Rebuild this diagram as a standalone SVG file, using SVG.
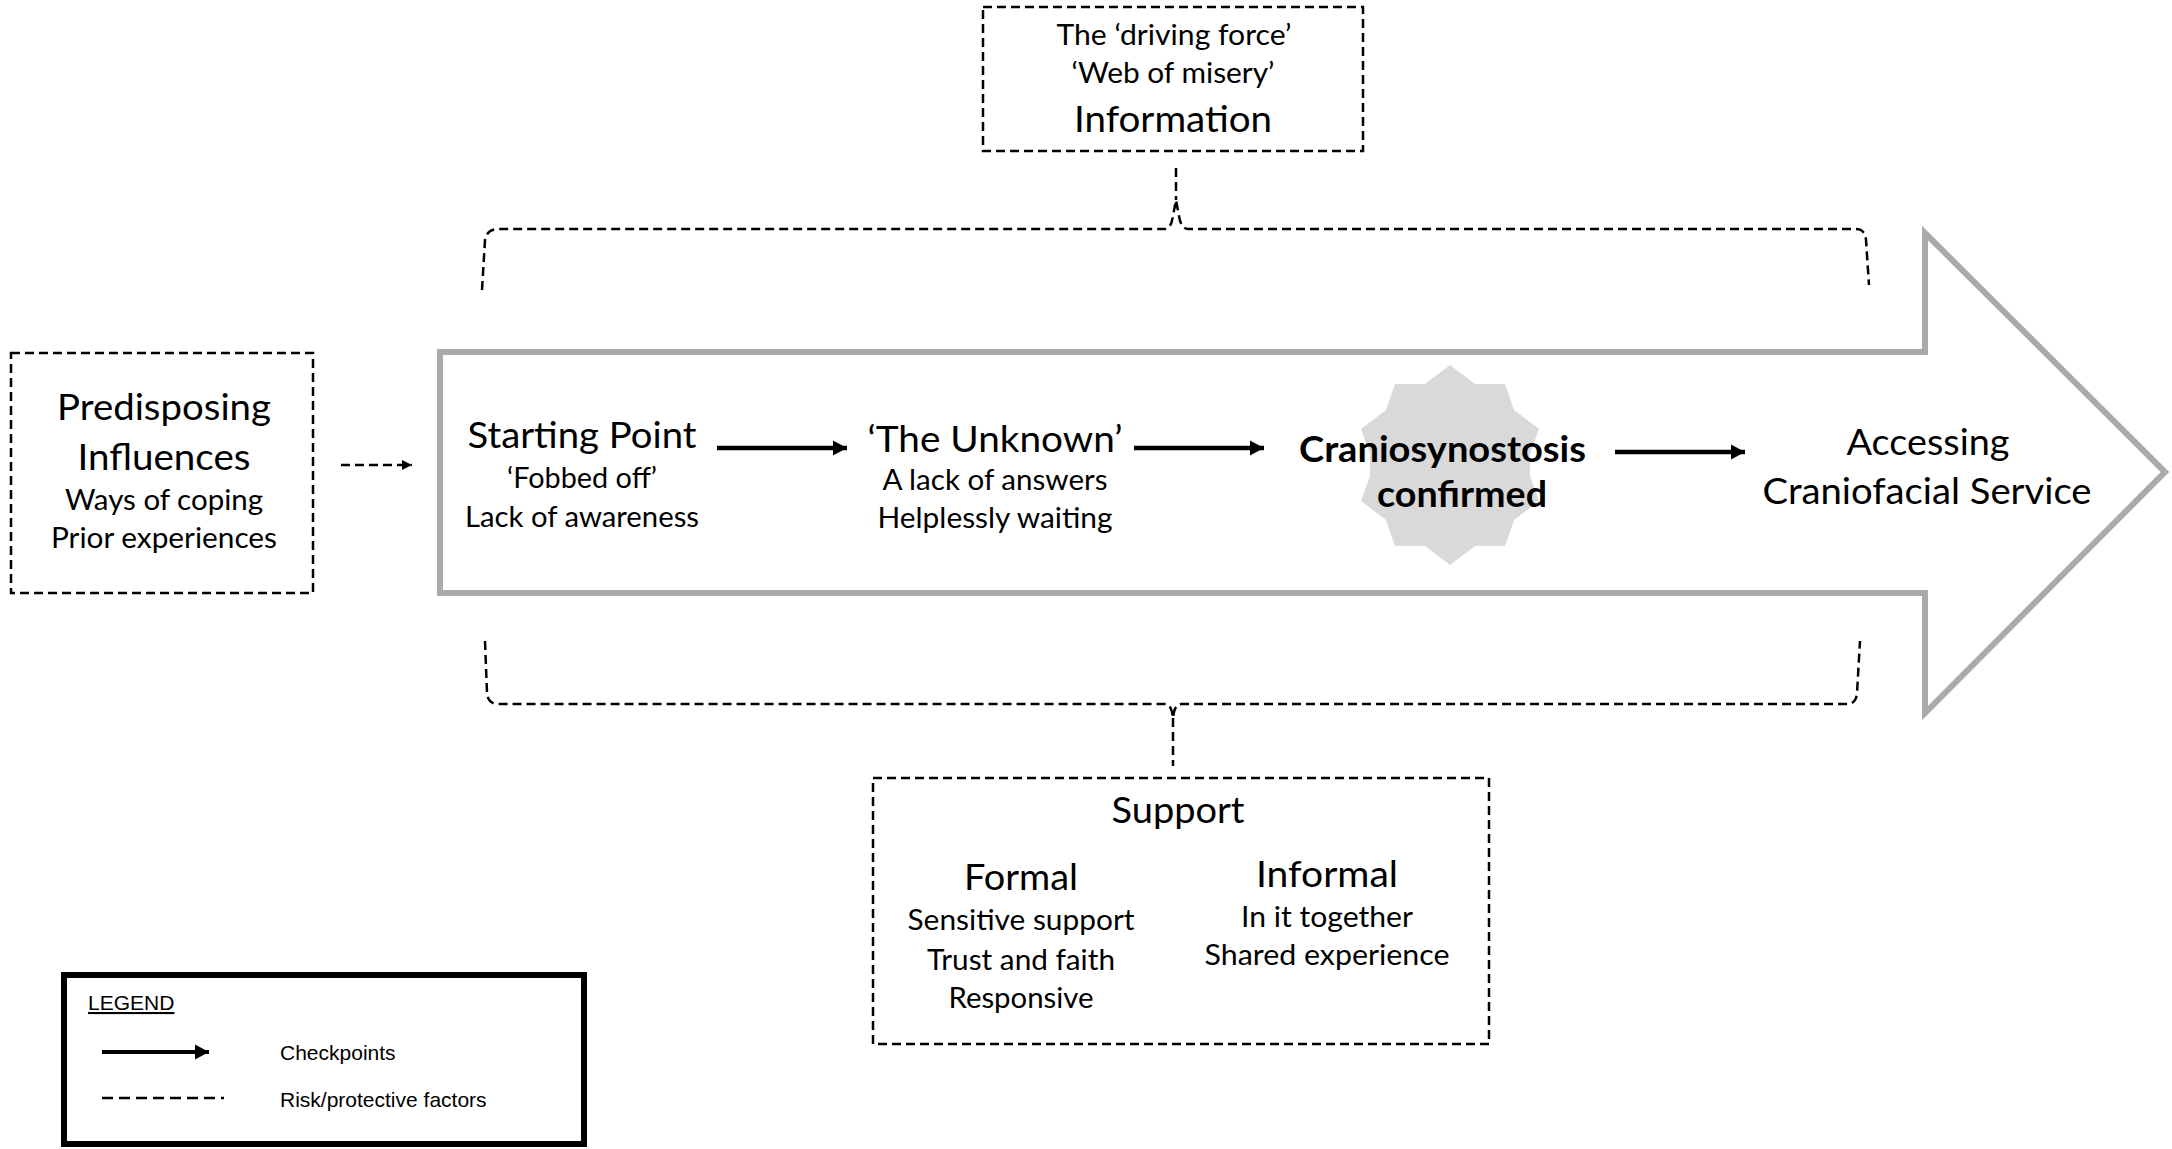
<svg xmlns="http://www.w3.org/2000/svg" width="2172" height="1149" viewBox="0 0 2172 1149">
<defs>
<style>
.t{font-family:Lato,"Open Sans","Noto Sans",sans-serif;fill:#000;text-anchor:middle}
.L{font-size:37px}
.S{font-size:29px}
.B{font-size:37px;font-weight:bold}
.dash{fill:none;stroke:#000;stroke-width:2.5;stroke-dasharray:9 5}
.solid{stroke:#000;stroke-width:4.5;fill:none}
.leg{font-family:"Liberation Sans",Arial,sans-serif;font-size:21px;fill:#000}
</style>
<marker id="ah" markerUnits="userSpaceOnUse" markerWidth="16" markerHeight="16" refX="14" refY="8" orient="auto">
<path d="M0,0.5 L14,8 L0,15.5 Z" fill="#000"/>
</marker>
<marker id="ahs" markerUnits="userSpaceOnUse" markerWidth="12" markerHeight="12" refX="10" refY="5" orient="auto">
<path d="M0,0 L10,5 L0,10 Z" fill="#000"/>
</marker>
</defs>
<rect width="2172" height="1149" fill="#fff"/>

<g id="journey-arrow">
<polygon points="440,352 1925,352 1925,233 2165,472 1925,713 1925,593 440,593" fill="#fff" stroke="#aaaaaa" stroke-width="6" stroke-linejoin="miter"/>
</g>

<g id="information">
<rect class="dash" x="983" y="7" width="380" height="144"/>
<text class="t S" x="1174" y="45" textLength="235" lengthAdjust="spacingAndGlyphs">The ‘driving force’</text>
<text class="t S" x="1173" y="83" textLength="203" lengthAdjust="spacingAndGlyphs">‘Web of misery’</text>
<text class="t L" x="1173" y="132" textLength="198" lengthAdjust="spacingAndGlyphs">Information</text>
</g>

<g id="predisposing">
<rect class="dash" x="11" y="353" width="302" height="240"/>
<text class="t L" x="164" y="420" textLength="214" lengthAdjust="spacingAndGlyphs">Predisposing</text>
<text class="t L" x="164" y="470" textLength="173" lengthAdjust="spacingAndGlyphs">Influences</text>
<text class="t S" x="164" y="510" textLength="198" lengthAdjust="spacingAndGlyphs">Ways of coping</text>
<text class="t S" x="164" y="548" textLength="226" lengthAdjust="spacingAndGlyphs">Prior experiences</text>
</g>

<g id="starting-point">
<text class="t L" x="582" y="448" textLength="229" lengthAdjust="spacingAndGlyphs">Starting Point</text>
<text class="t S" x="582" y="488" textLength="150" lengthAdjust="spacingAndGlyphs">‘Fobbed off’</text>
<text class="t S" x="582" y="527" textLength="234" lengthAdjust="spacingAndGlyphs">Lack of awareness</text>
</g>

<g id="the-unknown">
<text class="t L" x="995" y="452" textLength="255" lengthAdjust="spacingAndGlyphs">‘The Unknown’</text>
<text class="t S" x="995" y="490" textLength="225" lengthAdjust="spacingAndGlyphs">A lack of answers</text>
<text class="t S" x="995" y="528" textLength="235" lengthAdjust="spacingAndGlyphs">Helplessly waiting</text>
</g>

<g id="craniosynostosis-confirmed">
<polygon fill="#d9d9d9" points="1450,365 1475,384 1505,384 1514,410 1539,429 1530,454 1530,476 1539,501 1514,520 1505,546 1475,546 1450,565 1425,546 1395,546 1386,520 1361,501 1370,476 1370,454 1361,429 1386,410 1395,384 1425,384"/>
<text class="t B" x="1442.5" y="462" textLength="287" lengthAdjust="spacingAndGlyphs">Craniosynostosis</text>
<text class="t B" x="1462" y="507" textLength="170" lengthAdjust="spacingAndGlyphs">confirmed</text>
</g>

<g id="accessing">
<text class="t L" x="1928" y="455" textLength="163" lengthAdjust="spacingAndGlyphs">Accessing</text>
<text class="t L" x="1927" y="504" textLength="329" lengthAdjust="spacingAndGlyphs">Craniofacial Service</text>
</g>

<g id="support">
<rect class="dash" x="873" y="778" width="616" height="266"/>
<text class="t L" x="1178" y="823" textLength="133" lengthAdjust="spacingAndGlyphs">Support</text>
<text class="t L" x="1021" y="890" textLength="114" lengthAdjust="spacingAndGlyphs">Formal</text>
<text class="t S" x="1021" y="930" textLength="227" lengthAdjust="spacingAndGlyphs">Sensitive support</text>
<text class="t S" x="1021" y="970" textLength="188" lengthAdjust="spacingAndGlyphs">Trust and faith</text>
<text class="t S" x="1021" y="1008" textLength="145" lengthAdjust="spacingAndGlyphs">Responsive</text>
<text class="t L" x="1327" y="887" textLength="142" lengthAdjust="spacingAndGlyphs">Informal</text>
<text class="t S" x="1327" y="927" textLength="172" lengthAdjust="spacingAndGlyphs">In it together</text>
<text class="t S" x="1327" y="965" textLength="245" lengthAdjust="spacingAndGlyphs">Shared experience</text>
</g>

<g id="connectors">
<line class="solid" x1="717" y1="448" x2="847" y2="448" marker-end="url(#ah)"/>
<line class="solid" x1="1134" y1="448" x2="1264" y2="448" marker-end="url(#ah)"/>
<line class="solid" x1="1615" y1="452" x2="1745" y2="452" marker-end="url(#ah)"/>
<line class="dash" x1="341" y1="465" x2="412" y2="465" stroke-dasharray="10 6" marker-end="url(#ahs)"/>
<path class="dash" d="M1176,168 L1176,200 M482,290 L485,240 Q487,229 498,229 L1165,229 Q1171,229 1173,216 L1176,200 L1179,216 Q1181,229 1188,229 L1856,229 Q1865,229 1866,240 L1869,285"/>
<path class="dash" d="M485,641 L487,693 Q488,704 498,704 L1165,704 Q1170,704 1172,712 L1173,718 L1174,712 Q1176,704 1182,704 L1847,704 Q1856,704 1857,693 L1860,641 M1173,718 L1173,766"/>
</g>

<g id="legend">
<rect x="64" y="975" width="520" height="169" fill="#fff" stroke="#000" stroke-width="6"/>
<text class="leg" x="88" y="1010" text-decoration="underline">LEGEND</text>
<line x1="102" y1="1052" x2="209" y2="1052" stroke="#000" stroke-width="4" marker-end="url(#ah)"/>
<text class="leg" x="280" y="1060">Checkpoints</text>
<line x1="102" y1="1098" x2="224" y2="1098" stroke="#000" stroke-width="2.5" stroke-dasharray="11 6"/>
<text class="leg" x="280" y="1107">Risk/protective factors</text>
</g>
</svg>
